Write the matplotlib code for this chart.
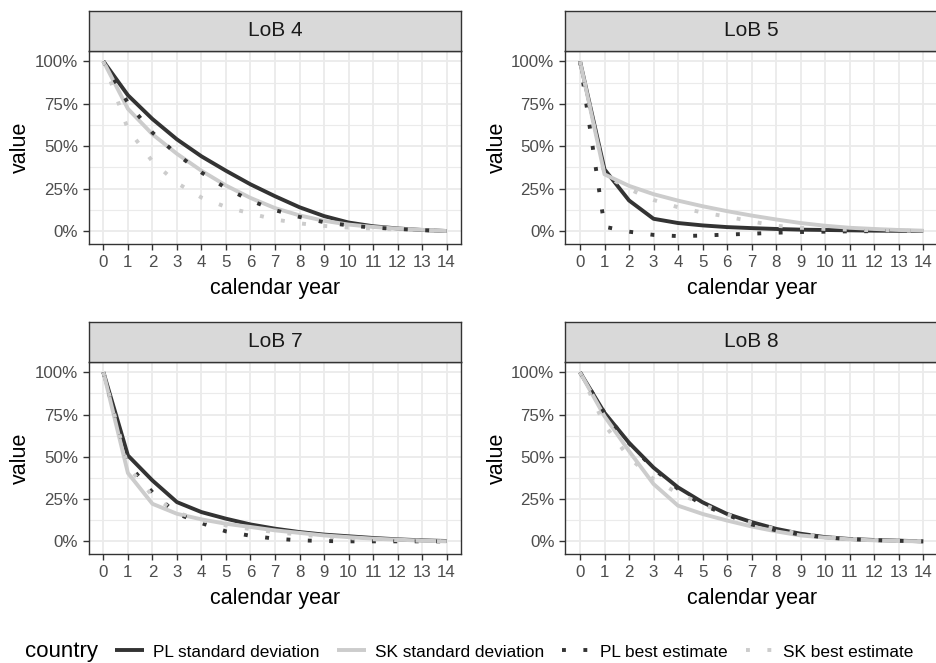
import matplotlib.pyplot as plt
from matplotlib.lines import Line2D

plt.rcParams['font.family'] = ['Liberation Sans', 'DejaVu Sans']

# calendar years on the x axis
years = list(range(15))

# LoB 4
lob4_pl_sd = [1.0, 0.80, 0.66, 0.54, 0.44, 0.355, 0.275, 0.205, 0.14, 0.088, 0.05, 0.028, 0.015, 0.006, 0.0]
lob4_sk_sd = [1.0, 0.72, 0.57, 0.455, 0.355, 0.268, 0.195, 0.135, 0.092, 0.06, 0.038, 0.024, 0.014, 0.007, 0.0]
lob4_pl_be = [1.0, 0.755, 0.58, 0.452, 0.345, 0.253, 0.18, 0.123, 0.083, 0.052, 0.033, 0.02, 0.012, 0.005, 0.0]
lob4_sk_be = [1.0, 0.60, 0.41, 0.283, 0.197, 0.142, 0.103, 0.068, 0.045, 0.03, 0.02, 0.014, 0.009, 0.005, 0.0]

# LoB 5
lob5_pl_sd = [1.0, 0.363, 0.18, 0.072, 0.047, 0.033, 0.023, 0.017, 0.012, 0.008, 0.006, 0.004, 0.002, 0.001, 0.0]
lob5_sk_sd = [1.0, 0.334, 0.266, 0.217, 0.179, 0.146, 0.117, 0.091, 0.068, 0.047, 0.031, 0.019, 0.012, 0.006, 0.002]
lob5_pl_be = [1.0, 0.025, -0.004, -0.023, -0.03, -0.027, -0.021, -0.016, -0.01, -0.006, -0.004, -0.002, -0.001, 0.0, 0.0]
lob5_sk_be = [1.0, 0.33, 0.247, 0.183, 0.14, 0.109, 0.085, 0.056, 0.031, 0.019, 0.012, 0.008, 0.004, 0.002, 0.0]

# LoB 7
lob7_pl_sd = [1.0, 0.508, 0.36, 0.232, 0.173, 0.134, 0.1, 0.075, 0.055, 0.04, 0.03, 0.02, 0.012, 0.006, 0.002]
lob7_sk_sd = [1.0, 0.404, 0.222, 0.163, 0.13, 0.104, 0.085, 0.065, 0.05, 0.035, 0.025, 0.016, 0.01, 0.004, 0.0]
lob7_pl_be = [1.0, 0.46, 0.29, 0.163, 0.108, 0.059, 0.033, 0.016, 0.006, 0.002, 0.0, 0.0, 0.0, 0.0, 0.0]
lob7_sk_be = [1.0, 0.44, 0.27, 0.17, 0.125, 0.095, 0.072, 0.055, 0.04, 0.028, 0.019, 0.012, 0.007, 0.003, 0.0]

# LoB 8
lob8_pl_sd = [1.0, 0.76, 0.583, 0.436, 0.319, 0.231, 0.162, 0.114, 0.074, 0.045, 0.025, 0.014, 0.008, 0.004, 0.0]
lob8_sk_sd = [1.0, 0.74, 0.534, 0.339, 0.211, 0.162, 0.123, 0.088, 0.059, 0.035, 0.022, 0.012, 0.006, 0.002, 0.0]
lob8_pl_be = [1.0, 0.76, 0.58, 0.43, 0.31, 0.215, 0.157, 0.10, 0.065, 0.04, 0.023, 0.013, 0.007, 0.003, 0.0]
lob8_sk_be = [1.0, 0.69, 0.495, 0.368, 0.284, 0.22, 0.16, 0.11, 0.072, 0.045, 0.027, 0.015, 0.008, 0.003, 0.0]

series_names = ['PL standard deviation', 'SK standard deviation', 'PL best estimate', 'SK best estimate']
y_ticks = [0, 0.25, 0.5, 0.75, 1.0]
y_labels = ['0%', '25%', '50%', '75%', '100%']

panels = [
    ('LoB 4', [lob4_pl_sd, lob4_sk_sd, lob4_pl_be, lob4_sk_be]),
    ('LoB 5', [lob5_pl_sd, lob5_sk_sd, lob5_pl_be, lob5_sk_be]),
    ('LoB 7', [lob7_pl_sd, lob7_sk_sd, lob7_pl_be, lob7_sk_be]),
    ('LoB 8', [lob8_pl_sd, lob8_sk_sd, lob8_pl_be, lob8_sk_be]),
]

DARK = '#333333'
LIGHT = '#cccccc'
styles = [
    dict(color=DARK, linestyle='-'),
    dict(color=LIGHT, linestyle='-'),
    dict(color=DARK, dashes=(1, 4.5)),
    dict(color=LIGHT, dashes=(1, 4.5)),
]
LW = 2.8

W, H = 936, 663


def box(x0, y0, x1, y1):
    # pixel box (from top-left) -> figure fraction
    return [x0 / W, 1 - y1 / H, (x1 - x0) / W, (y1 - y0) / H]


# panel positions in pixels: (left, right), (strip top, panel top, panel bottom)
cols = [(88.7, 461.3), (565.3, 937.9)]
rows = [(10.7, 50.7, 244.0), (321.7, 361.7, 554.3)]

fig = plt.figure(figsize=(W / 100, H / 100), dpi=100)

for i, (title, data) in enumerate(panels):
    x0, x1 = cols[i % 2]
    st, pt, pb = rows[i // 2]

    ax = fig.add_axes(box(x0, pt, x1, pb))
    for vals, st_kw in zip(data, styles):
        ax.plot(years, vals, lw=LW, solid_capstyle='butt', dash_capstyle='butt', **st_kw)

    ax.set_xlim(-0.6, 14.6)
    ax.set_ylim(-0.0766, 1.0625)
    ax.set_xticks(years)
    ax.set_yticks(y_ticks)
    ax.set_yticklabels(y_labels)
    ax.set_yticks([0.125, 0.375, 0.625, 0.875], minor=True)
    ax.grid(which='major', color='#ebebeb', lw=1.3)
    ax.grid(which='minor', axis='y', color='#ebebeb', lw=0.8)
    ax.set_axisbelow(True)
    ax.tick_params(which='major', length=4.3, width=1.0, color=DARK,
                   labelsize=12.2, labelcolor='#4d4d4d', pad=3.5)
    ax.tick_params(which='minor', length=0)
    for sp in ax.spines.values():
        sp.set_color(DARK)
        sp.set_linewidth(1.0)
    ax.set_xlabel('calendar year', fontsize=15.5, labelpad=6)
    ax.set_ylabel('value', fontsize=15.5, labelpad=2.5)

    sax = fig.add_axes(box(x0, st, x1, pt))
    sax.set_facecolor('#d9d9d9')
    sax.set_xticks([])
    sax.set_yticks([])
    for sp in sax.spines.values():
        sp.set_color(DARK)
        sp.set_linewidth(1.0)
    sax.text(0.5, 0.5, title, transform=sax.transAxes, ha='center', va='center',
             fontsize=15, color='#1a1a1a')

# legend at the bottom
handles = [Line2D([], [], lw=LW, solid_capstyle='butt', dash_capstyle='butt', **s) for s in styles]
fig.text(25 / W, 1 - 652 / H, 'country', fontsize=16, va='center', ha='left')
fig.legend(handles, series_names, loc='center left', bbox_to_anchor=(115 / W, 1 - 652 / H),
           ncol=4, frameon=False, fontsize=12.4, handlelength=1.67, handletextpad=0.52,
           columnspacing=1.05, borderpad=0, borderaxespad=0)

fig.savefig('out.png', dpi=100)
